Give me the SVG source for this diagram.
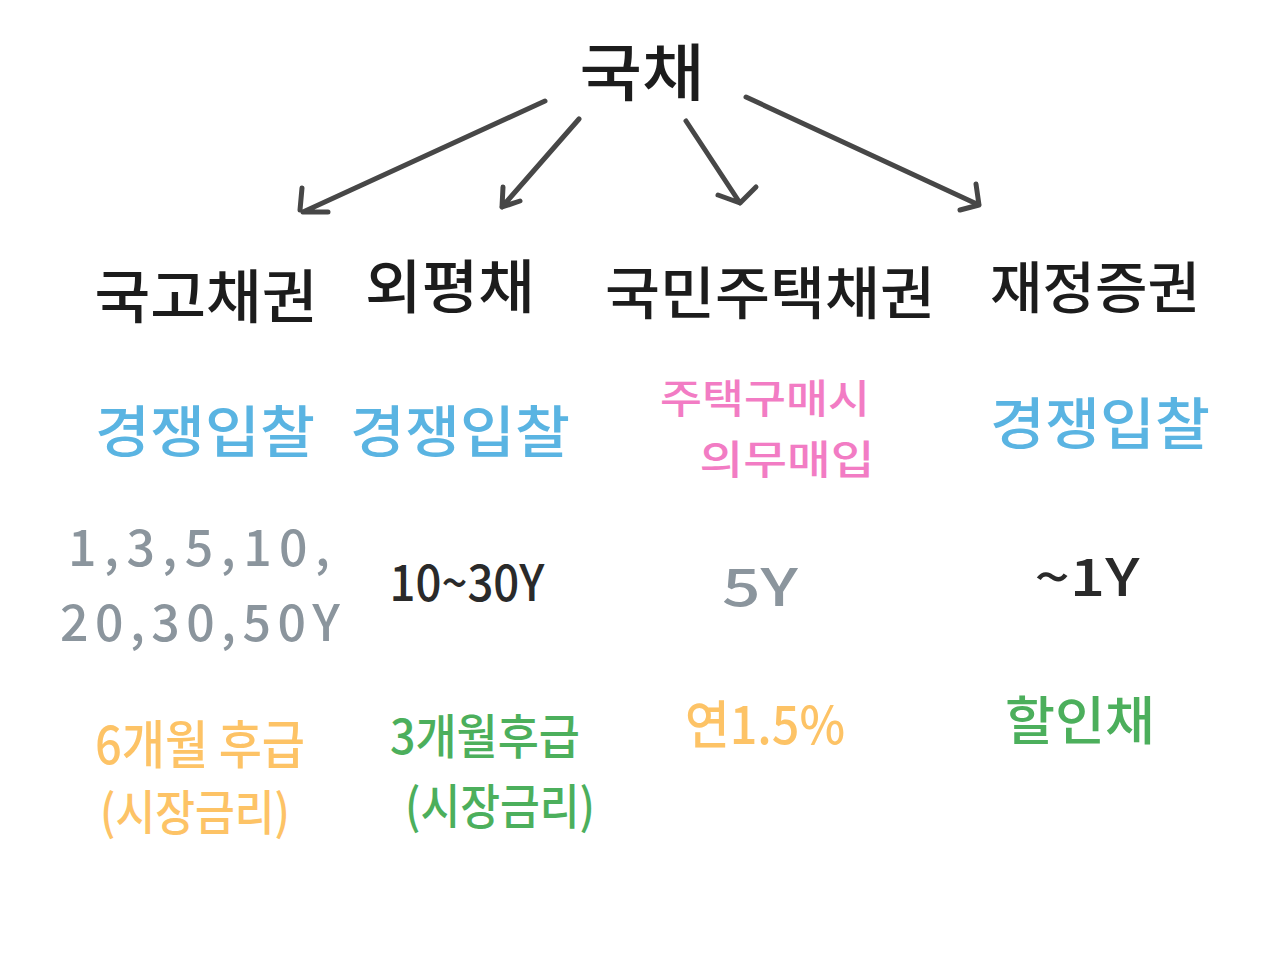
<svg xmlns="http://www.w3.org/2000/svg" width="1280" height="960" viewBox="0 0 1280 960">
<style>
text{font-family:"Noto Sans CJK KR","Noto Sans",sans-serif;text-anchor:middle;font-weight:500}
.k{fill:#1c1c1c}
.b{fill:#5ab4e2}
.p{fill:#f27cc4}
.g{fill:#8b959d}
.d{fill:#2a2a2a}
.o{fill:#fdc366}
.gr{fill:#4caf5c}
.a{stroke:#474747;stroke-width:5;stroke-linecap:round;stroke-linejoin:round;fill:none}
</style>
<rect width="1280" height="960" fill="#ffffff"/>
<g id="connectors">
<path class="a" d="M545 101 L303 212 M300 210 L302 188 M303 212 L328 212"/>
<path class="a" d="M579 119 L502 207 M502 207 L503 187 M502 207 L520 201"/>
<path class="a" d="M686 121 L740 203 M740 203 L718 195 M740 203 L756 187"/>
<path class="a" d="M746 97 L979 205 M979 205 L960 210 M979 205 L976 184"/>
</g>
<g id="root"><text class="k" x="642" y="96" font-size="62" textLength="125" lengthAdjust="spacingAndGlyphs">국채</text></g>
<g id="n1">
<text class="k" x="206" y="318" font-size="58" textLength="223" lengthAdjust="spacingAndGlyphs">국고채권</text>
<text class="b" x="205" y="452" font-size="56" textLength="220" lengthAdjust="spacingAndGlyphs">경쟁입찰</text>
<text class="g" x="199" y="566" font-size="50" textLength="262" lengthAdjust="spacing">1,3,5,10,</text>
<text class="g" x="200" y="641" font-size="50" textLength="280" lengthAdjust="spacing">20,30,50Y</text>
<text class="o" x="200" y="764" font-size="52" textLength="210" lengthAdjust="spacingAndGlyphs">6개월 후급</text>
<text class="o" x="195" y="830" font-size="48" textLength="190" lengthAdjust="spacingAndGlyphs">(시장금리)</text>
</g>
<g id="n2">
<text class="k" x="450" y="308" font-size="58" textLength="170" lengthAdjust="spacingAndGlyphs">외평채</text>
<text class="b" x="460" y="452" font-size="56" textLength="220" lengthAdjust="spacingAndGlyphs">경쟁입찰</text>
<text class="d" x="467" y="601" font-size="50" textLength="155" lengthAdjust="spacingAndGlyphs">10~30Y</text>
<text class="gr" x="485" y="754" font-size="48" textLength="190" lengthAdjust="spacingAndGlyphs">3개월후급</text>
<text class="gr" x="500" y="824" font-size="48" textLength="190" lengthAdjust="spacingAndGlyphs">(시장금리)</text>
</g>
<g id="n3">
<text class="k" x="770" y="314" font-size="57" textLength="330" lengthAdjust="spacingAndGlyphs">국민주택채권</text>
<text class="p" x="765" y="413" font-size="40" textLength="210" lengthAdjust="spacingAndGlyphs">주택구매시</text>
<text class="p" x="787" y="474" font-size="40" textLength="175" lengthAdjust="spacingAndGlyphs">의무매입</text>
<text class="g" x="760" y="606" font-size="52" textLength="76" lengthAdjust="spacingAndGlyphs">5Y</text>
<text class="o" x="765" y="744" font-size="52" textLength="160" lengthAdjust="spacingAndGlyphs">연1.5%</text>
</g>
<g id="n4">
<text class="k" x="1095" y="308" font-size="56" textLength="210" lengthAdjust="spacingAndGlyphs">재정증권</text>
<text class="b" x="1100" y="444" font-size="56" textLength="220" lengthAdjust="spacingAndGlyphs">경쟁입찰</text>
<text class="d" x="1087" y="596" font-size="52" textLength="105" lengthAdjust="spacingAndGlyphs">~1Y</text>
<text class="gr" x="1080" y="740" font-size="52" textLength="150" lengthAdjust="spacingAndGlyphs">할인채</text>
</g>
</svg>
